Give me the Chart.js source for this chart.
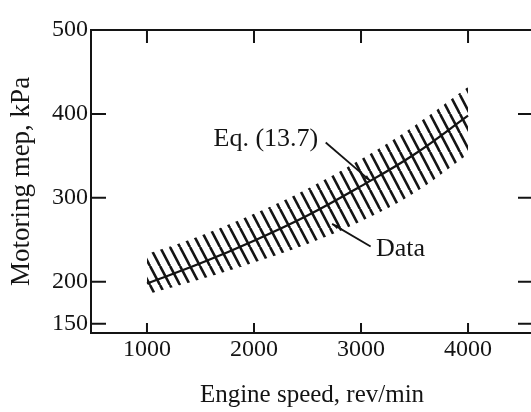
<!DOCTYPE html>
<html>
<head>
<meta charset="utf-8">
<script src="https://cdn.jsdelivr.net/npm/chart.js@4.4.1/dist/chart.umd.min.js"></script>
<style>
html, body { margin: 0; padding: 0; background: #fff; overflow: hidden; }
</style>
</head>
<body>
<canvas id="myChart" width="536" height="412"></canvas>
<script>
// engine speed (rev/min) and motoring mep (kPa)
const speeds = [1000, 1500, 2000, 2500, 3000, 3500, 4000];
const eqMep = [198, 222, 249, 279, 314, 352, 398];
const dataUpper = [233, 255, 281, 311, 346, 386, 432];
const dataLower = [185, 203, 223, 245, 272, 306, 352];

const xTicks = [1000, 2000, 3000, 4000];
const yTicks = [150, 200, 300, 400, 500];

// labels: text, anchor (rpm, kPa), leader start and end (rpm, kPa)
const noteText = ["Eq. (13.7)", "Data"];
const noteAt = [[2600, 370], [3140, 239]];
const noteAlign = ["right", "left"];
const leaderFrom = [[2670, 366], [3090, 242]];
const leaderTo = [[3090, 320], [2730, 269]];

const ink = "#141414";
const serif = "'Liberation Serif', 'DejaVu Serif', serif";

// hatch pattern for the data band
function hatch() {
    const w = 10, h = 19;
    const c = document.createElement("canvas");
    c.width = w;
    c.height = h;
    const g = c.getContext("2d");
    g.strokeStyle = ink;
    g.lineWidth = 2.6;
    for (let k = -1; k <= 1; k++) {
        g.beginPath();
        g.moveTo(k * w, 0);
        g.lineTo(k * w + w, h);
        g.stroke();
    }
    return g.createPattern(c, "repeat");
}

const frame = {
    id: "frame",
    afterDraw(chart) {
        const {ctx, chartArea: a, scales} = chart;
        ctx.save();
        ctx.strokeStyle = ink;
        ctx.lineWidth = 2;
        ctx.strokeRect(a.left, a.top, a.right - a.left, a.bottom - a.top);
        ctx.beginPath();
        xTicks.forEach((v) => {
            const px = scales.x.getPixelForValue(v);
            ctx.moveTo(px, a.top);
            ctx.lineTo(px, a.top + 13);
            ctx.moveTo(px, a.bottom);
            ctx.lineTo(px, a.bottom - 10);
        });
        yTicks.forEach((v) => {
            const py = scales.y.getPixelForValue(v);
            ctx.moveTo(a.left, py);
            ctx.lineTo(a.left + 15, py);
            ctx.moveTo(a.right, py);
            ctx.lineTo(a.right - 15, py);
        });
        ctx.stroke();

        // notes and leaders
        ctx.font = "26px " + serif;
        ctx.fillStyle = ink;
        ctx.textBaseline = "middle";
        ctx.lineWidth = 1.8;
        noteText.forEach((t, i) => {
            ctx.textAlign = noteAlign[i];
            ctx.fillText(t, scales.x.getPixelForValue(noteAt[i][0]), scales.y.getPixelForValue(noteAt[i][1]));
            const x1 = scales.x.getPixelForValue(leaderFrom[i][0]);
            const y1 = scales.y.getPixelForValue(leaderFrom[i][1]);
            const x2 = scales.x.getPixelForValue(leaderTo[i][0]);
            const y2 = scales.y.getPixelForValue(leaderTo[i][1]);
            ctx.beginPath();
            ctx.moveTo(x1, y1);
            ctx.lineTo(x2, y2);
            ctx.stroke();
            const ang = Math.atan2(y2 - y1, x2 - x1);
            ctx.beginPath();
            ctx.moveTo(x2, y2);
            ctx.lineTo(x2 - 7 * Math.cos(ang - 0.3), y2 - 7 * Math.sin(ang - 0.3));
            ctx.lineTo(x2 - 7 * Math.cos(ang + 0.3), y2 - 7 * Math.sin(ang + 0.3));
            ctx.closePath();
            ctx.fill();
        });
        ctx.restore();
    },
};

const ctx = document.getElementById("myChart").getContext("2d");
const myChart = new Chart(ctx, {
    type: "line",
    data: {
        datasets: [
            {
                label: "lower",
                data: speeds.map((s, i) => ({x: s, y: dataLower[i]})),
                borderWidth: 0,
                pointRadius: 0,
                tension: 0.4,
                fill: false,
            }, {
                label: "Data",
                data: speeds.map((s, i) => ({x: s, y: dataUpper[i]})),
                borderWidth: 0,
                pointRadius: 0,
                tension: 0.4,
                fill: "-1",
                backgroundColor: hatch(),
            }, {
                label: "Eq. (13.7)",
                data: speeds.map((s, i) => ({x: s, y: eqMep[i]})),
                borderColor: ink,
                borderWidth: 2.2,
                pointRadius: 0,
                tension: 0.4,
                fill: false,
            },
        ],
    },
    options: {
        responsive: false,
        animation: false,
        devicePixelRatio: 1,
        layout: {
            padding: {top: 30, right: 3, left: 0, bottom: 0},
        },
        plugins: {
            legend: {display: false},
            tooltip: {enabled: false},
        },
        scales: {
            x: {
                type: "linear",
                min: 477,
                max: 4607,
                afterBuildTicks: (s) => { s.ticks = xTicks.map((v) => ({value: v})); },
                afterFit: (s) => { s.height = 79; },
                grid: {display: false, drawTicks: false},
                border: {display: false},
                ticks: {
                    padding: 2,
                    color: ink,
                    font: {family: serif, size: 24},
                    callback: (v) => String(v),
                },
                title: {
                    display: true,
                    text: "Engine speed, rev/min",
                    color: ink,
                    font: {family: serif, size: 25},
                    padding: {top: 0, bottom: 2},
                },
            },
            y: {
                min: 139,
                max: 500,
                afterBuildTicks: (s) => { s.ticks = yTicks.map((v) => ({value: v})); },
                afterFit: (s) => { s.width = 91; },
                grid: {display: false, drawTicks: false},
                border: {display: false},
                ticks: {
                    padding: 3,
                    color: ink,
                    font: {family: serif, size: 24},
                    callback: (v) => String(v),
                },
                title: {
                    display: true,
                    text: "Motoring mep, kPa",
                    color: ink,
                    font: {family: serif, size: 27},
                    padding: {top: 6, bottom: 0},
                },
            },
        },
    },
    plugins: [frame],
});
</script>
</body>
</html>
